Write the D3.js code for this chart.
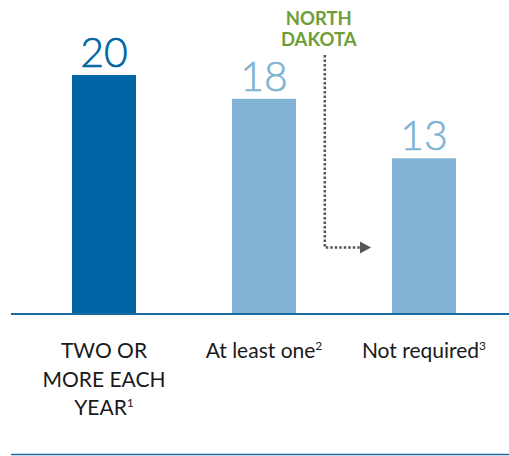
<!DOCTYPE html>
<html><head><meta charset="utf-8">
<script src="https://cdn.jsdelivr.net/npm/d3@7"></script>
<style>body{margin:0;background:#fff}svg{display:block}</style>
</head><body>
<script>
const categories = ["two", "one", "none"];
const values = [20, 18, 13];
const labelLines = [["TWO OR", "MORE EACH", "YEAR"], ["At least one"], ["Not required"]];
const footnotes = ["1", "2", "3"];
const barColors = ["#0065a4", "#80b3d4", "#80b3d4"];
const annotationLines = ["NORTH", "DAKOTA"];
const annotationValue = 5.5;

const W = 509, H = 456;
const svg = d3.select("body").append("svg").attr("width", W).attr("height", H);
const font = "Lato, 'Open Sans', sans-serif";

const x = d3.scaleBand().domain(categories).range([24, 504]).paddingInner(0.6).paddingOuter(0.3);
const y = d3.scaleLinear().domain([0, 20]).range([313, 75]);

svg.selectAll("rect.bar").data(values).join("rect")
  .attr("class", "bar")
  .attr("x", (d, i) => x(categories[i]))
  .attr("y", d => y(d))
  .attr("width", x.bandwidth())
  .attr("height", d => y(0) - y(d))
  .attr("fill", (d, i) => barColors[i]);

svg.selectAll("text.val").data(values).join("text")
  .attr("class", "val")
  .attr("x", (d, i) => x(categories[i]) + x.bandwidth() / 2)
  .attr("y", d => y(d) - 8)
  .attr("text-anchor", "middle")
  .attr("font-family", font)
  .attr("font-weight", 300)
  .attr("font-size", 41)
  .attr("fill", (d, i) => barColors[i])
  .attr("stroke", (d, i) => barColors[i])
  .attr("stroke-width", 0.6)
  .text(d => d);

// axis baseline
svg.append("line").attr("x1", 11).attr("x2", W).attr("y1", y(0) + 1).attr("y2", y(0) + 1)
  .attr("stroke", "#1b6aa3").attr("stroke-width", 2);
// bottom rule
svg.append("line").attr("x1", 11).attr("x2", W).attr("y1", 454.5).attr("y2", 454.5)
  .attr("stroke", "#1b6aa3").attr("stroke-width", 1.5);

// category labels
categories.forEach((c, i) => {
  const cx = x(c) + x.bandwidth() / 2;
  const lines = labelLines[i];
  const t = svg.append("text").attr("x", cx).attr("y", 358)
    .attr("text-anchor", "middle").attr("font-family", font)
    .attr("font-size", 21).attr("fill", "#1a1a1a");
  lines.forEach((ln, j) => {
    t.append("tspan").attr("x", cx).attr("dy", j === 0 ? 0 : 28.5).text(ln);
    if (j === lines.length - 1) {
      t.append("tspan").attr("dy", -8).attr("font-size", 12).text(footnotes[i]);
    }
  });
});

// North Dakota annotation
const gapStart = x(categories[1]) + x.bandwidth();
const gap = x(categories[2]) - gapStart;
const ax = gapStart + gap * 0.3;
const ay = y(annotationValue);
const ann = svg.append("text").attr("text-anchor", "middle").attr("font-family", font)
  .attr("font-weight", "bold").attr("font-size", 18.5).attr("fill", "#6e9e3a");
annotationLines.forEach((ln, j) => {
  ann.append("tspan").attr("x", ax - 6).attr("y", 25 + j * 21).text(ln);
});

const tipX = x(categories[2]) - 21;
svg.append("path")
  .attr("d", `M${ax},55 V${ay} H${tipX - 11}`)
  .attr("fill", "none").attr("stroke", "#555").attr("stroke-width", 2.5)
  .attr("stroke-dasharray", "2.5,2");
svg.append("path")
  .attr("d", `M${tipX - 11},${ay - 6} L${tipX},${ay} L${tipX - 11},${ay + 6} Z`)
  .attr("fill", "#555");
</script>
</body></html>
